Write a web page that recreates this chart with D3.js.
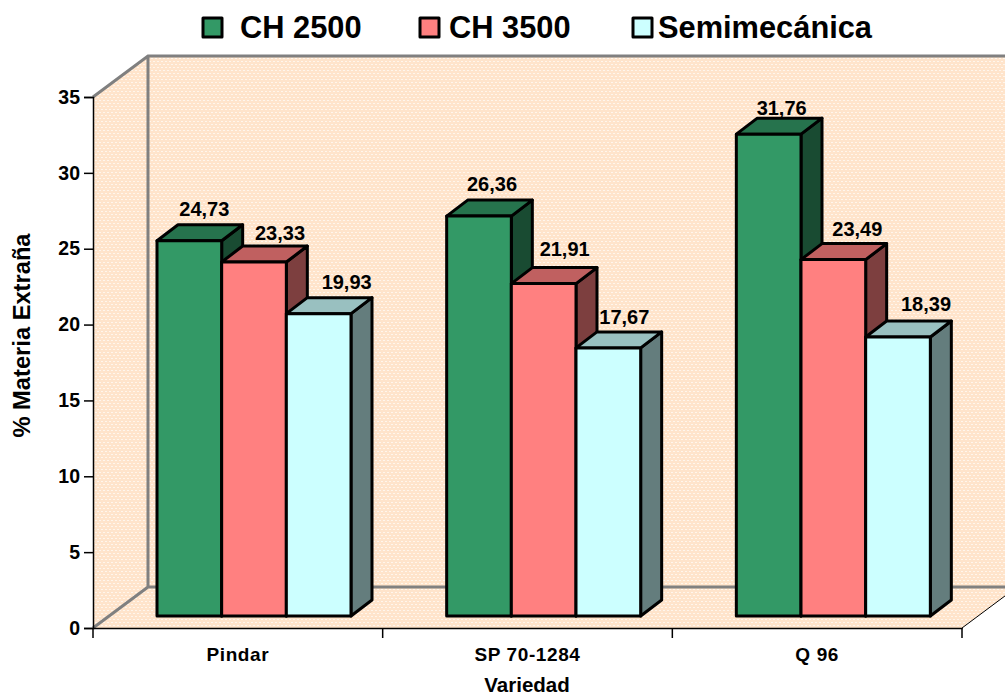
<!DOCTYPE html>
<html>
<head>
<meta charset="utf-8">
<script src="https://cdn.jsdelivr.net/npm/d3@7"></script>
<style>
html, body { margin: 0; padding: 0; background: #fff; }
svg { display: block; }
text { font-family: "Liberation Sans", Arial, sans-serif; font-weight: bold; fill: #000; }
</style>
</head>
<body>
<svg id="svg1" width="1005" height="697"></svg>
<script>
var categories = ["Pindar", "SP 70-1284", "Q 96"];
var series = ["CH 2500", "CH 3500", "Semimecánica"];
var ch2500 = [24.73, 26.36, 31.76];
var ch3500 = [23.33, 21.91, 23.49];
var semimecanica = [19.93, 17.67, 18.39];
var yTicks = [0, 5, 10, 15, 20, 25, 30, 35];

var seriesValues = [ch2500, ch3500, semimecanica];
var fillColors = ["#339966", "#ff8080", "#ccffff"];

var svg = d3.select("#svg1");

// plot box, front plane of the floor and depth of the walls
var left = 93, right = 962, top_ = 97, bottom = 628;
var wallDx = 55, wallDy = -41;
var barOffsetDx = 16, barOffsetDy = -12;
var barDx = 21, barDy = -16;

var y = d3.scaleLinear().domain([0, 35]).range([bottom, top_]);
var xGroup = d3.scaleBand().domain(categories).range([left, right]);
var xBar = d3.scaleBand().domain(series).range([48, 242]);

// dither of the walls
var defs = svg.append("defs");
var pattern = defs.append("pattern")
	.attr("id", "wall")
	.attr("patternUnits", "userSpaceOnUse")
	.attr("width", 8)
	.attr("height", 6);
pattern.append("rect").attr("width", 8).attr("height", 6).attr("fill", "#ffe4cb");
pattern.append("rect").attr("x", 1).attr("y", 1).attr("width", 2).attr("height", 1).attr("fill", "#fff6ec");
pattern.append("rect").attr("x", 5).attr("y", 1).attr("width", 2).attr("height", 1).attr("fill", "#fff6ec");
pattern.append("rect").attr("x", 3).attr("y", 4).attr("width", 2).attr("height", 1).attr("fill", "#fff6ec");
pattern.append("rect").attr("x", 7).attr("y", 4).attr("width", 1).attr("height", 1).attr("fill", "#fff6ec");
pattern.append("rect").attr("x", 0).attr("y", 4).attr("width", 1).attr("height", 1).attr("fill", "#fff6ec");

var poly = function(points)
{
	return points.map(function(p) { return p.join(","); }).join(" ");
}

// walls and floor
var wallTop = y(35) + wallDy, wallBottom = y(0) + wallDy;
svg.append("polygon")
	.attr("points", poly([[left, y(35)], [left + wallDx, wallTop], [left + wallDx, wallBottom], [left, y(0)]]))
	.attr("fill", "url(#wall)");
svg.append("polygon")
	.attr("points", poly([[left + wallDx, wallTop], [right + wallDx, wallTop], [right + wallDx, wallBottom], [left + wallDx, wallBottom]]))
	.attr("fill", "url(#wall)");
svg.append("polygon")
	.attr("points", poly([[left, y(0)], [left + wallDx, wallBottom], [right + wallDx, wallBottom], [right, y(0)]]))
	.attr("fill", "url(#wall)");

svg.append("path")
	.attr("d", "M" + left + "," + y(35) + "L" + (left + wallDx) + "," + wallTop + "H" + (right + wallDx)
		+ "M" + (left + wallDx) + "," + wallTop + "V" + wallBottom + "H" + (right + wallDx)
		+ "M" + left + "," + y(0) + "L" + (left + wallDx) + "," + wallBottom)
	.attr("fill", "none")
	.attr("stroke", "#808080")
	.attr("stroke-width", 3);
svg.append("line")
	.attr("x1", right).attr("y1", y(0))
	.attr("x2", right + wallDx).attr("y2", y(0) + wallDy)
	.attr("stroke", "#000")
	.attr("stroke-width", 1);

// axes
var yAxis = svg.append("g")
	.attr("transform", "translate(" + left + ",0)")
	.call(d3.axisLeft(y).tickValues(yTicks).tickSize(9).tickPadding(4));
yAxis.selectAll("text").style("font-size", "19.5px");
yAxis.selectAll("line").attr("stroke", "#000").attr("stroke-width", 1.5);
yAxis.select(".domain").attr("stroke", "#000").attr("stroke-width", 1.5);

var xAxis = svg.append("g")
	.attr("transform", "translate(0," + bottom + ")")
	.call(d3.axisBottom(xGroup).tickSize(0).tickPadding(20));
xAxis.selectAll("text").style("font-size", "19px").style("letter-spacing", "0.6px");
xAxis.select(".domain").attr("stroke", "#000").attr("stroke-width", 1.5);
xAxis.selectAll(".sep")
	.data(d3.range(categories.length + 1))
	.enter().append("line")
	.attr("class", "sep")
	.attr("x1", function(d) { return left + d * xGroup.step(); })
	.attr("x2", function(d) { return left + d * xGroup.step(); })
	.attr("y1", 0)
	.attr("y2", 10)
	.attr("stroke", "#000")
	.attr("stroke-width", 1.5);

// bars, drawn left to right so later ones cover the earlier side faces
var lineStyle = function(sel)
{
	sel.attr("stroke", "#000").attr("stroke-width", 3).attr("stroke-linejoin", "round");
}

// data labels sit by hand in the original, each one has its own shift from the bar top
var labelShiftX = [[15, 26, 28], [13, 21, 16], [13, 24, 28]];
var labelShiftY = [[-6, -3, -6], [-6, -9, -5], [0, -5, -7]];

categories.forEach(function(cat, c)
{
	series.forEach(function(s, i)
	{
		var v = seriesValues[i][c];
		var x0 = xGroup(cat) + xBar(s) + barOffsetDx;
		var x1 = x0 + xBar.bandwidth();
		var yT = y(v) + barOffsetDy;
		var yB = y(0) + barOffsetDy;
		var base = d3.color(fillColors[i]);

		svg.append("polygon")
			.attr("points", poly([[x1, yT], [x1 + barDx, yT + barDy], [x1 + barDx, yB + barDy], [x1, yB]]))
			.attr("fill", base.darker(2).formatHex())
			.call(lineStyle);
		svg.append("polygon")
			.attr("points", poly([[x0, yT], [x0 + barDx, yT + barDy], [x1 + barDx, yT + barDy], [x1, yT]]))
			.attr("fill", base.darker(0.8).formatHex())
			.call(lineStyle);
		svg.append("rect")
			.attr("x", x0)
			.attr("y", yT)
			.attr("width", xBar.bandwidth())
			.attr("height", yB - yT)
			.attr("fill", fillColors[i])
			.call(lineStyle);
	});
});

// labels go on top of every bar
categories.forEach(function(cat, c)
{
	series.forEach(function(s, i)
	{
		var v = seriesValues[i][c];
		svg.append("text")
			.attr("x", xGroup(cat) + xBar(s) + barOffsetDx + xBar.bandwidth() / 2 + labelShiftX[c][i])
			.attr("y", y(v) + barOffsetDy + barDy - 3 + labelShiftY[c][i])
			.attr("text-anchor", "middle")
			.style("font-size", "20px")
			.text(v.toFixed(2).replace(".", ","));
	});
});

// axis titles
svg.append("text")
	.attr("transform", "translate(30,335.5) rotate(-90)")
	.attr("text-anchor", "middle")
	.style("font-size", "23.7px")
	.text("% Materia Extraña");
svg.append("text")
	.attr("x", 527)
	.attr("y", 692)
	.attr("text-anchor", "middle")
	.style("font-size", "20.5px")
	.text("Variedad");

// legend
var legendSwatchX = [203, 420, 633];
var legendTextX = [240, 449, 658];
series.forEach(function(s, i)
{
	svg.append("rect")
		.attr("x", legendSwatchX[i])
		.attr("y", 18)
		.attr("width", 19)
		.attr("height", 19)
		.attr("fill", fillColors[i])
		.call(lineStyle);
	svg.append("text")
		.attr("x", legendTextX[i])
		.attr("y", 38)
		.style("font-size", "30.8px")
		.text(s);
});
</script>
</body>
</html>
